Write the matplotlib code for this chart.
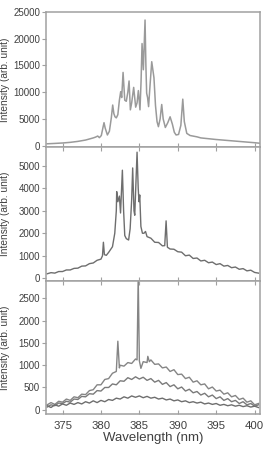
import matplotlib
matplotlib.use("Agg")
import matplotlib.pyplot as plt
import numpy as np

plt.rcParams['font.family'] = ['Liberation Sans', 'DejaVu Sans']

# ---------------- data ----------------
# Panel 1 (smooth spectrum)
p1_wl = [373.0, 374.0, 375.0, 376.0, 377.0, 378.0, 379.0, 379.3, 379.58, 379.8,
         380.05, 380.25, 380.4, 380.55, 380.84, 381.1, 381.35, 381.53, 381.68, 381.83,
         382.0, 382.2, 382.4, 382.57, 382.7, 382.88, 383.1, 383.3, 383.5, 383.66,
         383.83, 384.0, 384.26, 384.52, 384.7, 384.87, 385.08, 385.22, 385.35, 385.52,
         385.74, 385.85, 385.95, 386.07, 386.2, 386.4, 386.61, 386.9, 387.1, 387.3,
         387.48, 387.7, 387.91, 388.1, 388.38, 388.7, 389.0, 389.3, 389.55, 389.78,
         390.1, 390.4, 390.65, 390.85, 391.17, 391.6, 392.5, 393.0, 395.0, 397.5,
         400.0, 400.7]
p1_int = [350, 420, 500, 620, 800, 1050, 1450, 1600, 1800, 1500,
          1900, 3300, 4300, 3300, 2000, 2700, 5200, 7600, 6000, 5400,
          5200, 5800, 8500, 10100, 9000, 13700, 8500, 8300, 10000, 12100,
          6700, 8000, 10900, 7200, 8000, 10300, 6700, 12000, 19100, 14200,
          23500, 15000, 9800, 9000, 7300, 11500, 15700, 12700, 7500, 4500,
          3550, 5000, 7700, 5000, 3400, 4300, 5400, 4000, 2500, 2000,
          2100, 3800, 8700, 4500, 2300, 1900, 1650, 1450, 1150, 850,
          550, 450]

# Panel 2 (noisy spectrum)
p2_wl = [373.0, 373.5, 374.0, 374.5, 375.0, 375.5, 376.0, 376.5, 377.0, 377.5,
         378.0, 378.5, 379.0, 379.5, 380.0, 380.2, 380.32, 380.45, 380.7, 381.0,
         381.5, 381.8, 382.0, 382.05, 382.2, 382.4, 382.55, 382.79, 382.95, 383.1,
         383.3, 383.6, 383.8, 384.0, 384.13, 384.3, 384.4, 384.55, 384.7, 384.85,
         384.95, 385.05, 385.2, 385.4, 385.6, 385.8, 386.0, 386.5, 387.0, 387.5,
         388.0, 388.3, 388.48, 388.65, 389.0, 389.5, 390.0, 390.5, 391.0, 391.5,
         392.0, 392.5, 393.0, 393.5, 394.0, 394.5, 395.0, 395.5, 396.0, 396.5,
         397.0, 397.5, 398.0, 398.5, 399.0, 399.5, 400.0, 400.5]
p2_int = [200, 250, 230, 300, 300, 370, 370, 440, 450, 540,
          550, 650, 680, 800, 850, 1000, 1600, 1050, 1020, 1150,
          1400, 2000, 3000, 3850, 3400, 3650, 2900, 4800, 3000, 1900,
          1760, 1700, 2200, 3500, 4900, 3000, 2800, 4200, 5600, 4000,
          3400, 3700, 2300, 2000, 2000, 2080, 1850, 1780, 1600, 1590,
          1440, 1450, 2550, 1380, 1300, 1290, 1180, 1160, 1000, 1030,
          880, 900, 770, 800, 690, 720, 610, 650, 540, 570,
          470, 500, 400, 430, 330, 360, 260, 230]

# Panel 3 (three noisy spectra)
p3_top_wl = [373.0, 373.5, 374.0, 374.5, 375.0, 375.5, 376.0, 376.5, 377.0, 377.5,
             378.0, 378.5, 379.0, 379.5, 380.0, 380.5, 381.0, 381.5, 382.0, 382.2,
             382.4, 382.5, 383.0, 383.5, 384.0, 384.5, 384.7, 384.85, 385.0, 385.2,
             385.5, 386.0, 386.1, 386.3, 386.5, 387.0, 387.5, 388.0, 388.5, 389.0,
             389.5, 390.0, 390.5, 391.0, 391.5, 392.0, 392.5, 393.0, 393.5, 394.0,
             394.5, 395.0, 395.5, 396.0, 396.5, 397.0, 397.5, 398.0, 398.5, 399.0,
             399.5, 400.0, 400.5]
p3_top_int = [110, 160, 120, 190, 170, 240, 210, 290, 270, 350,
              340, 430, 450, 560, 560, 680, 700, 820, 860, 1540,
              940, 1000, 980, 1060, 1040, 1140, 1120, 3000, 1100, 930,
              1080, 1060, 1200, 1080, 1120, 1020, 1030, 940, 960, 860,
              900, 790, 800, 700, 730, 620, 650, 560, 580, 470,
              510, 420, 440, 350, 380, 290, 320, 230, 260, 170,
              200, 110, 140]

p3_mid_wl = [373.0, 373.5, 374.0, 374.5, 375.0, 375.5, 376.0, 376.5, 377.0, 377.5,
             378.0, 378.5, 379.0, 379.5, 380.0, 380.5, 381.0, 381.5, 382.0, 382.5,
             383.0, 383.5, 384.0, 384.5, 385.0, 385.5, 386.0, 386.5, 387.0, 387.5,
             388.0, 388.5, 389.0, 389.5, 390.0, 390.5, 391.0, 391.5, 392.0, 392.5,
             393.0, 393.5, 394.0, 394.5, 395.0, 395.5, 396.0, 396.5, 397.0, 397.5,
             398.0, 398.5, 399.0, 399.5, 400.0, 400.5]
p3_mid_int = [60, 110, 90, 150, 140, 190, 170, 240, 230, 300,
              290, 360, 350, 430, 420, 500, 500, 580, 560, 650,
              640, 720, 680, 740, 690, 730, 660, 700, 620, 660,
              570, 610, 520, 560, 470, 510, 420, 460, 380, 410,
              330, 370, 290, 330, 250, 290, 210, 250, 180, 210,
              140, 180, 110, 140, 80, 110]

p3_low_wl = p3_mid_wl
p3_low_int = [90, 50, 110, 80, 130, 100, 150, 120, 160, 130,
              180, 150, 200, 160, 210, 180, 230, 210, 260, 240,
              290, 260, 310, 280, 310, 270, 300, 260, 280, 240,
              260, 220, 240, 200, 220, 180, 200, 160, 180, 150,
              170, 130, 150, 120, 140, 100, 120, 90, 110, 80,
              100, 70, 90, 60, 80, 50]

x_ticks = [375, 380, 385, 390, 395, 400]
p1_yticks = [0, 5000, 10000, 15000, 20000, 25000]
p2_yticks = [0, 1000, 2000, 3000, 4000, 5000]
p3_yticks = [0, 500, 1000, 1500, 2000, 2500]

# ---------------- figure ----------------
W, H = 263, 449
fig = plt.figure(figsize=(W / 100, H / 100), dpi=100)

def ax_rect(top_px, bot_px):
    left = 46 / W
    width = 214 / W
    return [left, (H - bot_px) / H, width, (bot_px - top_px) / H]

ax1 = fig.add_axes(ax_rect(12, 147))
ax2 = fig.add_axes(ax_rect(147, 280.7))
ax3 = fig.add_axes(ax_rect(280.7, 414))

spine_c = '#a0a0a0'
text_c = '#404040'

ax1.plot(p1_wl, p1_int, color='#9a9a9a', lw=1.1)
ax2.plot(p2_wl, p2_int, color='#6e6e6e', lw=1.0)
ax3.plot(p3_top_wl, p3_top_int, color='#858585', lw=1.0)
ax3.plot(p3_mid_wl, p3_mid_int, color='#7a7a7a', lw=1.0)
ax3.plot(p3_low_wl, p3_low_int, color='#6e6e6e', lw=1.0)

limits = [(ax1, (-250, 25000), p1_yticks),
          (ax2, (-107, 5830), p2_yticks),
          (ax3, (-96, 2900), p3_yticks)]

for ax, yl, yt in limits:
    ax.set_xlim(372.85, 400.7)
    ax.set_ylim(*yl)
    ax.set_yticks(yt)
    ax.set_xticks(x_ticks)
    for s in ax.spines.values():
        s.set_color(spine_c)
        s.set_linewidth(1.1)
    ax.tick_params(axis='y', direction='out', length=3, width=0.8, color=spine_c,
                   labelsize=7, labelcolor=text_c, pad=1.2)
    ax.tick_params(axis='x', direction='in', length=3, width=0.8, color=spine_c,
                   top=True, labelsize=8.2, labelcolor=text_c, pad=5)
    ax.set_ylabel('Intensity (arb. unit)', fontsize=7.3, color=text_c)

ax1.tick_params(axis='x', top=False, labelbottom=False)
ax2.tick_params(axis='x', labelbottom=False)

for ax in (ax1, ax2, ax3):
    ax.yaxis.set_label_coords(-0.17, 0.5)

ax3.set_xlabel('Wavelength (nm)', fontsize=9.5, color=text_c, labelpad=1)

fig.savefig('out.png', dpi=100)
